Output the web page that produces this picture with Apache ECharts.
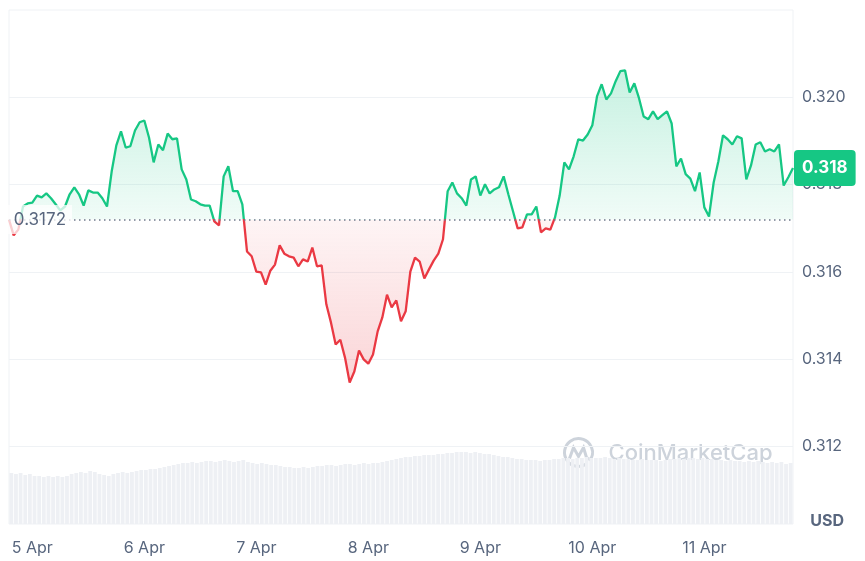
<!DOCTYPE html>
<html>
<head>
<meta charset="utf-8">
<style>
  html, body { margin: 0; background: #fff; }
  #chart { width: 865px; height: 561px; }
</style>
<script src="https://cdn.jsdelivr.net/npm/echarts@6/dist/echarts.min.js"></script>
</head>
<body>
<div id="chart"></div>
<script>
// hourly points, first one at 4 Apr 19:00 UTC
const startTime = Date.UTC(2024, 3, 4, 19);

const prices = [
  0.31720, 0.31684, 0.31697, 0.31750, 0.31757, 0.31759, 0.31775, 0.31771, 0.31780, 0.31769,
  0.31755, 0.31741, 0.31750, 0.31778, 0.31794, 0.31778, 0.31752, 0.31787, 0.31782, 0.31782,
  0.31769, 0.31750, 0.31830, 0.31890, 0.31922, 0.31885, 0.31888, 0.31924, 0.31943, 0.31947,
  0.31908, 0.31851, 0.31892, 0.31879, 0.31917, 0.31904, 0.31906, 0.31835, 0.31812, 0.31766,
  0.31762, 0.31755, 0.31752, 0.31752, 0.31716, 0.31707, 0.31819, 0.31842, 0.31785, 0.31785,
  0.31755, 0.31647, 0.31636, 0.31601, 0.31599, 0.31571, 0.31603, 0.31617, 0.31661, 0.31642,
  0.31636, 0.31633, 0.31613, 0.31629, 0.31624, 0.31656, 0.31613, 0.31615, 0.31526, 0.31484,
  0.31434, 0.31445, 0.31404, 0.31347, 0.31372, 0.31420, 0.31400, 0.31390, 0.31411, 0.31464,
  0.31496, 0.31548, 0.31519, 0.31535, 0.31487, 0.31510, 0.31601, 0.31633, 0.31624, 0.31585,
  0.31606, 0.31626, 0.31642, 0.31675, 0.31785, 0.31805, 0.31780, 0.31769, 0.31752, 0.31812,
  0.31819, 0.31775, 0.31801, 0.31780, 0.31789, 0.31794, 0.31819, 0.31778, 0.31739, 0.31700,
  0.31702, 0.31732, 0.31732, 0.31750, 0.31691, 0.31700, 0.31697, 0.31725, 0.31775, 0.31851,
  0.31835, 0.31865, 0.31904, 0.31901, 0.31915, 0.31936, 0.32002, 0.32030, 0.31995, 0.32009,
  0.32037, 0.32060, 0.32062, 0.32011, 0.32032, 0.31998, 0.31956, 0.31950, 0.31968, 0.31950,
  0.31959, 0.31968, 0.31940, 0.31842, 0.31860, 0.31824, 0.31814, 0.31785, 0.31828, 0.31748,
  0.31727, 0.31805, 0.31853, 0.31913, 0.31904, 0.31892, 0.31911, 0.31906, 0.31812, 0.31844,
  0.31892, 0.31897, 0.31876, 0.31881, 0.31876, 0.31892, 0.31798, 0.31817, 0.31838
];

// relative volume per hour
const volumes = [
  51, 50, 51, 49, 50, 48,
  48, 47, 48, 47, 48, 47, 48,
  50, 51, 52, 51, 53, 52,
  50, 49, 48, 50, 51, 52,
  51, 52, 53, 54, 54, 55,
  55, 56, 57, 58, 59, 60,
  61, 61, 62, 61, 62, 63,
  63, 62, 63, 64, 63, 62,
  63, 64, 62, 61, 60, 61,
  60, 59, 59, 58, 57, 57,
  56, 56, 57, 56, 57, 58,
  58, 59, 59, 58, 59, 60,
  60, 59, 60, 61, 60, 61,
  61, 62, 63, 64, 65, 66,
  67, 67, 68, 68, 69, 69,
  69, 70, 70, 71, 71, 72,
  72, 72, 71, 72, 71, 70,
  70, 69, 68, 67, 67, 66,
  65, 65, 64, 64, 64, 63,
  64, 64, 65, 65, 66, 66,
  65, 66, 66, 67, 66, 66,
  66, 67, 66, 65, 66, 65,
  65, 64, 64, 65, 64, 64,
  64, 63, 64, 65, 65, 66,
  65, 66, 66, 65, 66, 65,
  65, 64, 64, 63, 64, 63,
  63, 62, 63, 62, 63, 62,
  61, 62, 61, 62, 60, 61
];

const baseline = 0.3172;
const yTicks = [0.312, 0.314, 0.316, 0.318, 0.320];

const green = '#16c784';
const red = '#ea3943';
const labelColor = '#58667e';
const gridColor = '#eff2f5';

const hours = prices.map((_, i) => String(startTime + i * 3600000));
const last = prices[prices.length - 1];
const hi = Math.max(...prices);
const lo = Math.min(...prices);
const split = (hi - baseline) / (hi - lo);

// line and area share the same vertical split at the baseline
const lineColor = new echarts.graphic.LinearGradient(0, 0, 0, 1, [
  { offset: 0, color: green },
  { offset: split, color: green },
  { offset: split, color: red },
  { offset: 1, color: red }
]);
const areaColor = new echarts.graphic.LinearGradient(0, 0, 0, 1, [
  { offset: 0, color: 'rgba(22,199,132,0.34)' },
  { offset: split, color: 'rgba(22,199,132,0.09)' },
  { offset: split, color: 'rgba(234,57,67,0.08)' },
  { offset: 1, color: 'rgba(234,57,67,0.30)' }
]);

const chart = echarts.init(document.getElementById('chart'));
chart.setOption({
  animation: false,
  textStyle: { fontFamily: 'Inter, sans-serif' },
  title: {
    text: 'USD', right: 16, top: 508,
    textStyle: { fontSize: 16, fontWeight: 'bold', color: labelColor }
  },
  grid: [
    { left: 9, right: 72, top: 10, bottom: 27 },
    { left: 9, right: 72, top: 10, bottom: 37, show: true, borderColor: gridColor, borderWidth: 1 }
  ],
  xAxis: [
    {
      type: 'category', data: hours, boundaryGap: false,
      axisLine: { show: false }, axisTick: { show: false },
      axisLabel: {
        interval: (i, v) => new Date(+v).getUTCHours() === 0,
        formatter: v => new Date(+v).getUTCDate() + ' Apr',
        fontSize: 16, color: labelColor, margin: 6
      }
    },
    { type: 'category', gridIndex: 1, data: hours, show: false }
  ],
  yAxis: [
    {
      type: 'value', position: 'right', min: 0.310, max: 0.322, interval: 0.002,
      axisLine: { show: false }, axisTick: { show: false },
      splitLine: {
        lineStyle: { color: ['transparent', gridColor, gridColor, gridColor, gridColor, gridColor, 'transparent'] }
      },
      axisLabel: {
        formatter: v => yTicks.some(t => Math.abs(t - v) < 1e-6) ? v.toFixed(3) : '',
        fontSize: 16, color: labelColor, margin: 9
      }
    },
    { type: 'value', gridIndex: 1, min: 0, max: 514, show: false }
  ],
  graphic: [{
    type: 'group', left: 562, top: 436, silent: true,
    children: [
      { type: 'arc', shape: { cx: 16, cy: 16, r: 14, startAngle: Math.PI * 0.3, endAngle: Math.PI * 2.15 },
        style: { stroke: '#cdd3db', lineWidth: 3, fill: 'none' } },
      { type: 'polyline', shape: { points: [[7, 22], [11, 11], [16, 20], [21, 11], [24, 21], [29, 24]] },
        style: { stroke: '#cdd3db', lineWidth: 3, fill: 'none' } },
      { type: 'text', x: 46, y: 17,
        style: { text: 'CoinMarketCap', fontSize: 22, fontWeight: 500, fontFamily: 'Inter, sans-serif',
                 fill: '#cdd3db', verticalAlign: 'middle' } }
    ]
  }],
  series: [
    {
      type: 'bar', xAxisIndex: 1, yAxisIndex: 1, data: volumes, silent: true,
      barCategoryGap: '18%', itemStyle: { color: '#eef0f4' }
    },
    {
      type: 'line', data: prices, symbol: 'none', silent: true,
      lineStyle: { width: 2.3, color: lineColor },
      areaStyle: { origin: baseline, color: areaColor },
      markLine: {
        symbol: 'none', silent: true, precision: 5,
        data: [
          {
            yAxis: baseline,
            lineStyle: { color: '#6f7a8c', type: [1.5, 3.5], width: 1.5 },
            label: {
              formatter: String(baseline), position: 'start', distance: -63,
              fontSize: 17, color: labelColor,
              backgroundColor: 'rgba(255,255,255,0.75)', padding: [6, 6, 6, 6]
            }
          },
          {
            yAxis: last,
            lineStyle: { color: 'transparent', width: 0 },
            label: {
              formatter: last.toFixed(3), position: 'end', distance: 1,
              fontSize: 17, fontWeight: 'bold', color: '#fff', lineHeight: 20,
              backgroundColor: green, padding: [8, 8, 8, 8], borderRadius: 4
            }
          }
        ]
      }
    }
  ]
});
</script>
</body>
</html>
